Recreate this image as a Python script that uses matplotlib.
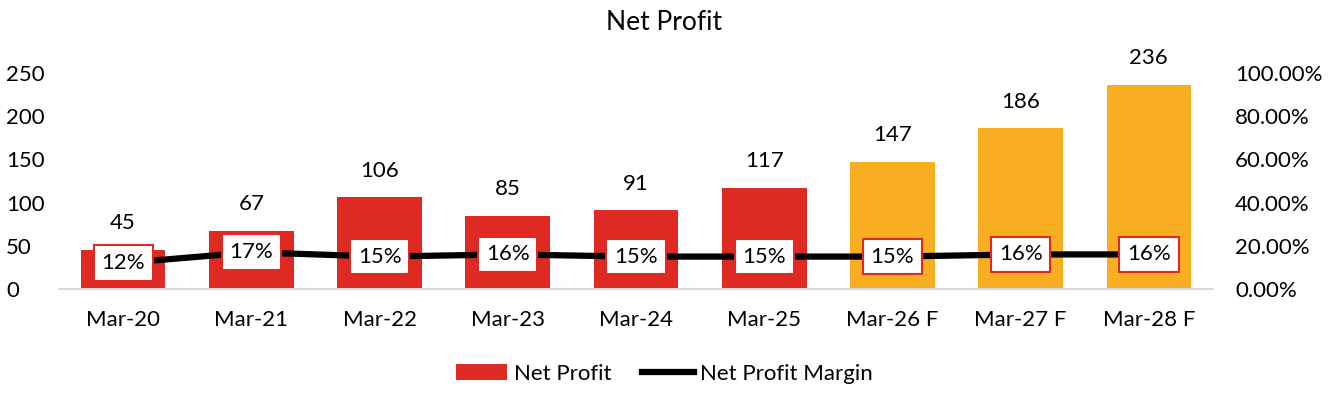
import matplotlib.pyplot as plt
from matplotlib.ticker import PercentFormatter

plt.rcParams['font.family'] = ['Lato', 'DejaVu Sans']

years = ['Mar-20', 'Mar-21', 'Mar-22', 'Mar-23', 'Mar-24', 'Mar-25', 'Mar-26 F', 'Mar-27 F', 'Mar-28 F']
net_profit = [45, 67, 106, 85, 91, 117, 147, 186, 236]
margin = [0.12, 0.17, 0.15, 0.16, 0.15, 0.15, 0.15, 0.16, 0.16]
forecast = [False] * 6 + [True] * 3

red = '#DE2A23'
orange = '#F9AD20'
colors = [orange if f else red for f in forecast]
fs = 16

fig = plt.figure(figsize=(13.29, 4.03), dpi=100)
ax = fig.add_axes([0.0444, 0.2829, 0.8683, 0.536])
x = range(len(years))
bars = ax.bar(x, net_profit, width=0.66, color=colors, label='Net Profit', zorder=2)
ax.set_ylim(0, 250)
ax.set_xlim(-0.5, len(years) - 0.5)
ax.set_yticks(range(0, 251, 50))
ax.set_xticks(list(x))
ax.set_xticklabels(years)
for s in ['top', 'right', 'left']:
    ax.spines[s].set_visible(False)
ax.spines['bottom'].set_color('#D9D9D9')
ax.spines['bottom'].set_linewidth(1.5)
ax.tick_params(length=0, labelsize=fs)
ax.tick_params(axis='x', pad=15)
ax.tick_params(axis='y', pad=38)
for lbl in ax.get_yticklabels():
    lbl.set_horizontalalignment('left')
for i, v in enumerate(net_profit):
    ax.annotate(str(v), (i, v), xytext=(0, 12), textcoords='offset points',
                ha='center', va='bottom', fontsize=fs)

ax2 = ax.twinx()
ax2.set_ylim(0, 1)
ax2.set_yticks([0, 0.2, 0.4, 0.6, 0.8, 1.0])
ax2.yaxis.set_major_formatter(PercentFormatter(1.0, decimals=2))
for s in ['top', 'right', 'left', 'bottom']:
    ax2.spines[s].set_visible(False)
ax2.tick_params(length=0, labelsize=fs, pad=16)
line, = ax2.plot(list(x), margin, color='black', lw=4.5, label='Net Profit Margin', zorder=3)
for i, m in enumerate(margin):
    ax2.text(i, m, f'{m:.0%}', ha='center', va='center', fontsize=fs, zorder=4,
             bbox=dict(boxstyle='square,pad=0.35', fc='white', ec=red, lw=1.5))

fig.suptitle('Net Profit', y=0.975, fontsize=19)
fig.legend([bars, line], ['Net Profit', 'Net Profit Margin'], loc='center',
           bbox_to_anchor=(0.5, 0.073), ncol=2, frameon=False, fontsize=fs,
           handlelength=2.3, handletextpad=0.3, columnspacing=1.4)
fig.savefig('out.png', dpi=100)
